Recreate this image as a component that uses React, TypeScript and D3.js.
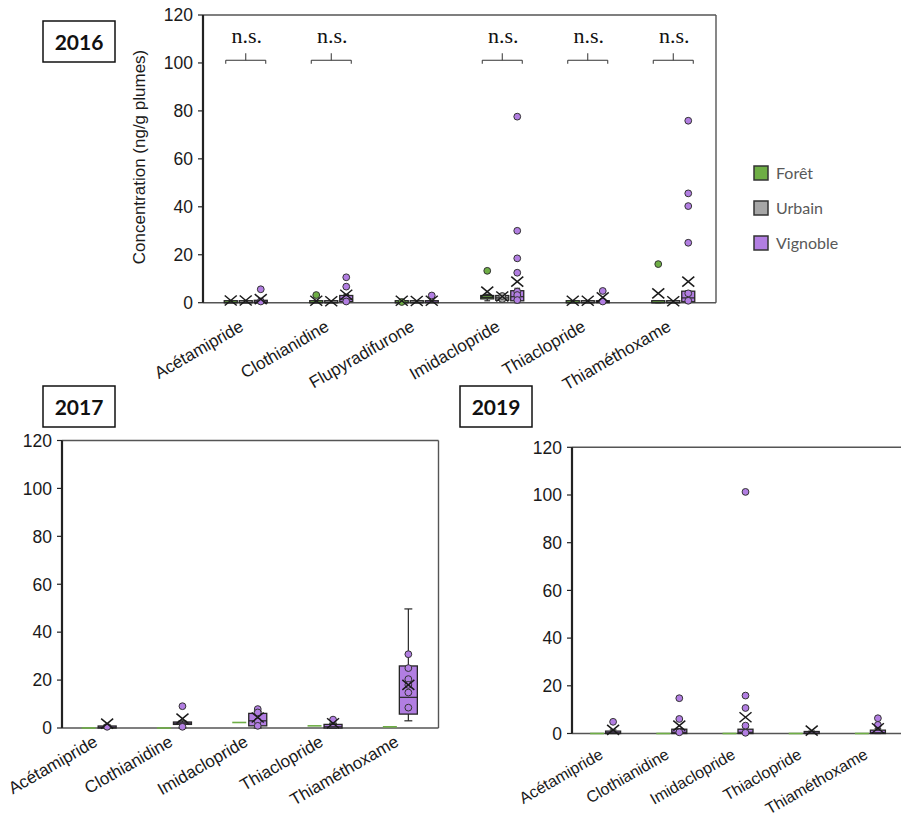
import React from "react";
import * as d3 from "d3";

// ---------- DATA ----------
const cats2016 = ["Acétamipride", "Clothianidine", "Flupyradifurone", "Imidaclopride", "Thiaclopride", "Thiaméthoxame"];
const cats2017 = ["Acétamipride", "Clothianidine", "Imidaclopride", "Thiaclopride", "Thiaméthoxame"];
const cats2019 = ["Acétamipride", "Clothianidine", "Imidaclopride", "Thiaclopride", "Thiaméthoxame"];
const habitats = ["Forêt", "Urbain", "Vignoble"];
const habitatColors = ["#6eae45", "#a6a6a6", "#b27ee2"];
const yTicks = [0, 20, 40, 60, 80, 100, 120];
const nsLabel = "n.s.";
const ns2016 = [true, true, false, true, true, true];

// box stats: [min, q1, median, q3, max]
const foret2016Box = [[0, 0, 0, 0.3, 0.5], [0, 0, 0, 0.4, 0.8], [0, 0, 0, 0.3, 0.5], [0.8, 1.6, 2.2, 3, 3.5], [0, 0, 0, 0.3, 0.5], [0, 0, 0, 0.3, 0.5]];
const foret2016Mean = [0.9, 0.8, 0.8, 4.6, 0.8, 3.9];
const foret2016Points = [[], [3.2], [0.3], [13.3], [], [16.1]];

const urbain2016Box = [[0, 0, 0, 0.3, 0.5], [0, 0, 0, 0.2, 0.4], [0, 0, 0, 0.2, 0.4], [0.5, 1, 2, 3, 3.5], [0, 0, 0, 0.2, 0.4], [0, 0, 0, 0.2, 0.4]];
const urbain2016Mean = [0.9, 0.6, 0.7, 2.6, 0.8, 0.6];
const urbain2016Points = [[], [], [], [1.5, 2.8], [], []];

const vignoble2016Box = [[0, 0, 0.3, 1, 1.5], [0, 0.5, 1.5, 3, 3.5], [0, 0, 0.2, 0.6, 1], [0, 0.8, 2.5, 5, 6], [0, 0, 0.3, 0.8, 1], [0, 0.4, 2, 4.8, 5]];
const vignoble2016Mean = [1.5, 3.3, 0.8, 8.8, 2.2, 8.8];
const vignoble2016Points = [[5.6, 0.5], [10.6, 6.7, 0.5], [3], [77.6, 30, 18.5, 12.5, 4.6, 3.2, 1.1], [4.9, 0.5], [75.9, 45.6, 40.3, 25, 3.9, 0.8]];

const foret2017Level = [0, 0, 2.3, 0.9, 0.5];
const vignoble2017Box = [[0, 0, 0.3, 0.8, 1.2], [0, 1.5, 2, 2.5, 3], [0, 0.9, 3, 6.1, 7], [0, 0, 0.5, 1.5, 2], [3, 5.8, 12.8, 25.9, 49.7]];
const vignoble2017Mean = [1.8, 3.9, 4.4, 2, 18];
const vignoble2017Points = [[0.5], [9.1, 0.5], [7.9, 6.5, 2.8, 0.9], [3.5], [30.8, 25, 20.4, 18, 14.8, 8.5]];

const foret2019Level = [0, 0, 0, 0, 0];
const vignoble2019Box = [[0, 0, 0.3, 1, 1.5], [0, 0, 0.5, 1.8, 2], [0, 0, 0.5, 1.8, 2.5], [0, 0, 0.2, 0.6, 1], [0, 0, 0.3, 1.4, 2]];
const vignoble2019Mean = [1.5, 3.3, 6.8, 1.2, 2.2];
const vignoble2019Points = [[4.9], [14.8, 6.1, 0.5], [101.3, 15.9, 10.7, 3.3, 0.3], [], [6.4, 3.6]];

const yTitle = "Concentration (ng/g plumes)";
const years = ["2016", "2017", "2019"];

// ---------- COMPONENTS ----------
type Series = {
  color: string;
  offset: number;
  boxes?: number[][];
  means?: number[];
  points?: number[][];
  levels?: number[];
};

const SANS = "'Liberation Sans', Arial, sans-serif";

function Box({ cx, y, stats, mean, pts, color, bw }: any) {
  const [mn, q1, md, q3, mx] = stats;
  const top = y(q3);
  const bot = y(q1);
  const h = Math.max(bot - top, 2);
  const stroke = "#262626";
  return (
    <g>
      <line x1={cx} x2={cx} y1={y(mx)} y2={top} stroke={stroke} strokeWidth={1.2} />
      <line x1={cx} x2={cx} y1={bot} y2={y(mn)} stroke={stroke} strokeWidth={1.2} />
      <line x1={cx - bw * 0.22} x2={cx + bw * 0.22} y1={y(mx)} y2={y(mx)} stroke={stroke} strokeWidth={1.2} />
      <line x1={cx - bw * 0.22} x2={cx + bw * 0.22} y1={y(mn)} y2={y(mn)} stroke={stroke} strokeWidth={1.2} />
      <rect x={cx - bw / 2} y={bot - h} width={bw} height={h} fill={color} stroke={stroke} strokeWidth={1.3} />
      <line x1={cx - bw / 2} x2={cx + bw / 2} y1={y(md)} y2={y(md)} stroke={stroke} strokeWidth={1.2} />
      {pts.map((p: number, i: number) => (
        <circle key={i} cx={cx} cy={y(p)} r={3.4} fill={color} stroke="#333" strokeWidth={1} />
      ))}
      {mean != null && (
        <g transform={`translate(${cx},${y(mean)})`} stroke="#1a1a1a" strokeWidth={1.5}>
          <line x1={-6} y1={-5} x2={6} y2={5} />
          <line x1={-6} y1={5} x2={6} y2={-5} />
        </g>
      )}
    </g>
  );
}

function Panel({ cats, series, x0, x1, yTop, yBottom, bw, labelDy, labelSize, ns }: any) {
  const x = d3.scaleBand<string>().domain(cats).range([x0, x1]);
  const y = d3.scaleLinear().domain([0, 120]).range([yBottom, yTop]);
  return (
    <g>
      {/* frame */}
      <line x1={x0} x2={x1} y1={yTop} y2={yTop} stroke="#555" strokeWidth={1.4} />
      <line x1={x1} x2={x1} y1={yTop} y2={yBottom} stroke="#555" strokeWidth={1.4} />
      <line x1={x0} x2={x1} y1={yBottom} y2={yBottom} stroke="#555" strokeWidth={1.4} />
      <line x1={x0} x2={x0} y1={yTop} y2={yBottom} stroke="#222" strokeWidth={2.2} />
      {yTicks.map((t) => (
        <g key={t}>
          <line x1={x0 - 5} x2={x0} y1={y(t)} y2={y(t)} stroke="#222" strokeWidth={1.2} />
          <text x={x0 - 10} y={y(t)} dy="0.36em" textAnchor="end" fontFamily={SANS} fontSize={17.5} fill="#1a1a1a">
            {t}
          </text>
        </g>
      ))}
      {cats.map((c: string) => {
        const cx = (x(c) as number) + x.bandwidth() / 2;
        return (
          <text
            key={c}
            transform={`translate(${cx - 1},${yBottom + labelDy}) rotate(-30)`}
            textAnchor="end"
            fontFamily={SANS}
            fontSize={labelSize}
            fill="#1a1a1a"
          >
            {c}
          </text>
        );
      })}
      {ns &&
        cats.map((c: string, i: number) => {
          if (!ns[i]) return null;
          const cx = (x(c) as number) + x.bandwidth() / 2;
          const by = y(103) + 4.5;
          return (
            <g key={"ns" + c}>
              <path
                d={`M${cx - 20},${by + 3.5}V${by}H${cx + 20}V${by + 3.5}M${cx},${by}V${by - 7}`}
                fill="none"
                stroke="#333"
                strokeWidth={1}
              />
              <text x={cx + 1} y={y(108.3)} textAnchor="middle" fontFamily="'Liberation Serif', 'Times New Roman', serif" fontSize={22} fill="#111">
                {nsLabel}
              </text>
            </g>
          );
        })}
      {series.map((s: Series, si: number) =>
        cats.map((c: string, i: number) => {
          const cx = (x(c) as number) + x.bandwidth() / 2 + s.offset;
          if (s.levels) {
            return (
              <line key={si + c} x1={cx - 7} x2={cx + 7} y1={y(s.levels[i])} y2={y(s.levels[i])} stroke={s.color} strokeWidth={1.6} />
            );
          }
          return (
            <Box
              key={si + c}
              cx={cx}
              y={y}
              stats={s.boxes![i]}
              mean={s.means![i]}
              pts={s.points![i]}
              color={s.color}
              bw={bw}
            />
          );
        })
      )}
    </g>
  );
}

function YearBox({ x, y, label }: any) {
  return (
    <g>
      <rect x={x} y={y} width={72} height={41} fill="#fff" stroke="#111" strokeWidth={1.5} />
      <text x={x + 36} y={y + 21} dy="0.36em" textAnchor="middle" fontFamily="Lato, 'Open Sans', sans-serif" fontWeight={700} fontSize={21} fill="#111">
        {label}
      </text>
    </g>
  );
}

export default function App() {
  const series2016: Series[] = [
    { color: habitatColors[0], offset: -15, boxes: foret2016Box, means: foret2016Mean, points: foret2016Points },
    { color: habitatColors[1], offset: 0, boxes: urbain2016Box, means: urbain2016Mean, points: urbain2016Points },
    { color: habitatColors[2], offset: 15, boxes: vignoble2016Box, means: vignoble2016Mean, points: vignoble2016Points },
  ];
  const series2017: Series[] = [
    { color: habitatColors[0], offset: -11, levels: foret2017Level },
    { color: habitatColors[2], offset: 7.5, boxes: vignoble2017Box, means: vignoble2017Mean, points: vignoble2017Points },
  ];
  const series2019: Series[] = [
    { color: habitatColors[0], offset: -8, levels: foret2019Level },
    { color: habitatColors[2], offset: 8, boxes: vignoble2019Box, means: vignoble2019Mean, points: vignoble2019Points },
  ];
  return (
    <svg width={901} height={823} style={{ position: "absolute", left: 0, top: 0, background: "#fff" }}>
      <rect width={901} height={823} fill="#fff" />
      <Panel cats={cats2016} series={series2016} x0={203} x1={716} yTop={15} yBottom={302.7} bw={13} labelDy={27} labelSize={17} ns={ns2016} />
      <Panel cats={cats2017} series={series2017} x0={62} x1={438.5} yTop={440.5} yBottom={728} bw={18} labelDy={17} labelSize={17} ns={null} />
      <Panel cats={cats2019} series={series2019} x0={572} x1={903} yTop={447.3} yBottom={733.5} bw={15} labelDy={24} labelSize={16} ns={null} />
      <text transform="translate(145,157) rotate(-90)" textAnchor="middle" fontFamily={SANS} fontSize={17} fill="#1a1a1a">
        {yTitle}
      </text>
      {habitats.map((h, i) => (
        <g key={h}>
          <rect x={754} y={166 + i * 35} width={14} height={14} fill={habitatColors[i]} stroke="#333" strokeWidth={1.5} />
          <text x={776} y={173 + i * 35} dy="0.36em" fontFamily="Lato, sans-serif" fontSize={16} fill="#595959">
            {h}
          </text>
        </g>
      ))}
      <YearBox x={43} y={21} label={years[0]} />
      <YearBox x={43} y={386} label={years[1]} />
      <YearBox x={460} y={386} label={years[2]} />
    </svg>
  );
}
